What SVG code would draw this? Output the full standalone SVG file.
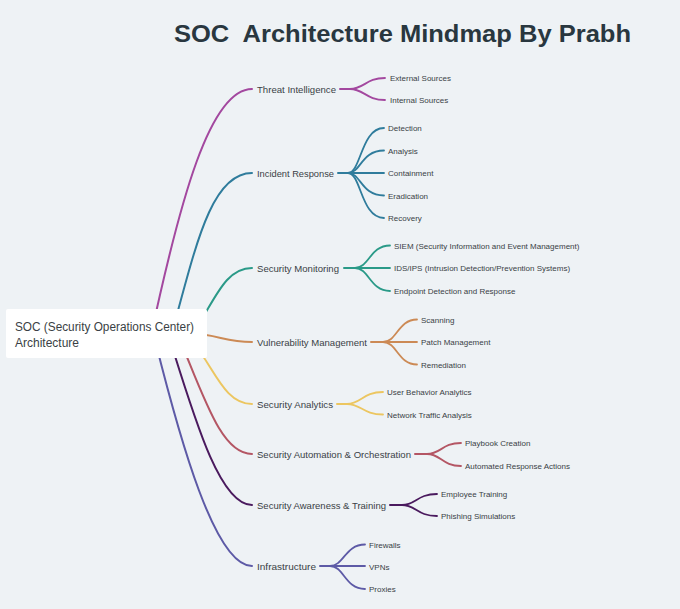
<svg xmlns="http://www.w3.org/2000/svg" width="680" height="609" viewBox="0 0 680 609">
<style>
.title{font-family:"Liberation Sans",Arial,sans-serif;font-weight:bold;font-size:24px;fill:#29373f;white-space:pre}
.root{font-family:"Liberation Sans",Arial,sans-serif;font-size:12px;fill:#3a3f45}
.br{font-family:"Liberation Sans",Arial,sans-serif;font-size:9.8px;fill:#3a3f45}
.ch{font-family:"Liberation Sans",Arial,sans-serif;font-size:8px;fill:#3a3f45}
.ln{fill:none;stroke-width:2;stroke-linecap:round}
.fk{fill:none;stroke-width:1.8;stroke-linecap:round}
.c1{stroke:#a3489f}.c2{stroke:#2f7c9c}.c3{stroke:#2a9a88}.c4{stroke:#cc8a55}
.c5{stroke:#ecc660}.c6{stroke:#b45664}.c7{stroke:#4a1a5e}.c8{stroke:#5d5aa6}
</style>
<rect width="680" height="609" fill="#eef2f5"/>
<text class="title" x="174" y="42" textLength="457" lengthAdjust="spacingAndGlyphs">SOC  Architecture Mindmap By Prabh</text>

<g id="connectors">
  <!-- root to branches -->
  <path class="ln c1" d="M150,340 C180,200 210,89 252,89"/>
  <path class="ln c2" d="M170,340 C195,250 210,173 252,173"/>
  <path class="ln c3" d="M195,330 C215,300 225,268 252,268"/>
  <path class="ln c4" d="M190,333 C220,335 225,342 252,342"/>
  <path class="ln c5" d="M195,345 C215,370 225,404 252,404"/>
  <path class="ln c6" d="M180,340 C205,400 222,454 252,454"/>
  <path class="ln c7" d="M170,340 C195,420 220,505 252,505"/>
  <path class="ln c8" d="M155,340 C180,440 215,566 252,566"/>
  <!-- Threat Intelligence -->
  <path class="ln c1" d="M340,89 L350,89"/>
  <path class="fk c1" d="M350,89 C364,89 366,78 385,78"/>
  <path class="fk c1" d="M350,89 C364,89 366,100 385,100"/>
  <!-- Incident Response -->
  <path class="ln c2" d="M338,173 L348,173"/>
  <path class="fk c2" d="M348,173 C361,173 361,128 384,128"/>
  <path class="fk c2" d="M348,173 C361,173 361,150.5 384,150.5"/>
  <path class="fk c2" d="M348,173 L384,173"/>
  <path class="fk c2" d="M348,173 C361,173 361,195.5 384,195.5"/>
  <path class="fk c2" d="M348,173 C361,173 361,218 384,218"/>
  <!-- Security Monitoring -->
  <path class="ln c3" d="M344,268 L355,268"/>
  <path class="fk c3" d="M355,268 C369,268 370,245.5 390,245.5"/>
  <path class="fk c3" d="M355,268 L390,268"/>
  <path class="fk c3" d="M355,268 C369,268 370,291 390,291"/>
  <!-- Vulnerability Management -->
  <path class="ln c4" d="M371,342 L383,342"/>
  <path class="fk c4" d="M383,342 C397,342 398,319.5 417,319.5"/>
  <path class="fk c4" d="M383,342 L417,342"/>
  <path class="fk c4" d="M383,342 C397,342 398,364.5 417,364.5"/>
  <!-- Security Analytics -->
  <path class="ln c5" d="M337,404 L347,404"/>
  <path class="fk c5" d="M347,404 C361,404 363,392 383,392"/>
  <path class="fk c5" d="M347,404 C361,404 363,414.5 383,414.5"/>
  <!-- Security Automation & Orchestration -->
  <path class="ln c6" d="M415,454 L427,454"/>
  <path class="fk c6" d="M427,454 C441,454 442,443 461,443"/>
  <path class="fk c6" d="M427,454 C441,454 442,466 461,466"/>
  <!-- Security Awareness & Training -->
  <path class="ln c7" d="M390,505 L402,505"/>
  <path class="fk c7" d="M402,505 C416,505 417,494 437,494"/>
  <path class="fk c7" d="M402,505 C416,505 417,516 437,516"/>
  <!-- Infrastructure -->
  <path class="ln c8" d="M320,566 L330,566"/>
  <path class="fk c8" d="M330,566 C344,566 345,544.5 365,544.5"/>
  <path class="fk c8" d="M330,566 L365,566"/>
  <path class="fk c8" d="M330,566 C344,566 345,589 365,589"/>
</g>

<g id="root">
  <rect x="6" y="309" width="201" height="49" rx="2" fill="#ffffff"/>
  <text class="root" x="15" y="331" textLength="179" lengthAdjust="spacingAndGlyphs">SOC (Security Operations Center)</text>
  <text class="root" x="15" y="347">Architecture</text>
</g>

<g id="threat-intelligence">
  <text class="br" x="257" y="92.5" textLength="79" lengthAdjust="spacingAndGlyphs">Threat Intelligence</text>
</g>
<g id="external-sources"><text class="ch" x="390" y="81">External Sources</text></g>
<g id="internal-sources"><text class="ch" x="390" y="103">Internal Sources</text></g>

<g id="incident-response">
  <text class="br" x="257" y="176.5" textLength="77" lengthAdjust="spacingAndGlyphs">Incident Response</text>
</g>
<g id="detection"><text class="ch" x="388" y="131">Detection</text></g>
<g id="analysis"><text class="ch" x="388" y="153.5">Analysis</text></g>
<g id="containment"><text class="ch" x="388" y="176">Containment</text></g>
<g id="eradication"><text class="ch" x="388" y="198.5">Eradication</text></g>
<g id="recovery"><text class="ch" x="388" y="221">Recovery</text></g>

<g id="security-monitoring">
  <text class="br" x="257" y="271.5" textLength="82" lengthAdjust="spacingAndGlyphs">Security Monitoring</text>
</g>
<g id="siem"><text class="ch" x="394" y="248.5">SIEM (Security Information and Event Management)</text></g>
<g id="ids-ips"><text class="ch" x="394" y="271">IDS/IPS (Intrusion Detection/Prevention Systems)</text></g>
<g id="edr"><text class="ch" x="394" y="294">Endpoint Detection and Response</text></g>

<g id="vulnerability-management">
  <text class="br" x="257" y="345.5" textLength="110" lengthAdjust="spacingAndGlyphs">Vulnerability Management</text>
</g>
<g id="scanning"><text class="ch" x="421" y="322.5">Scanning</text></g>
<g id="patch-management"><text class="ch" x="421" y="345">Patch Management</text></g>
<g id="remediation"><text class="ch" x="421" y="367.5">Remediation</text></g>

<g id="security-analytics">
  <text class="br" x="257" y="407.5" textLength="76" lengthAdjust="spacingAndGlyphs">Security Analytics</text>
</g>
<g id="uba"><text class="ch" x="387" y="395">User Behavior Analytics</text></g>
<g id="nta"><text class="ch" x="387" y="417.5">Network Traffic Analysis</text></g>

<g id="security-automation">
  <text class="br" x="257" y="457.5" textLength="154" lengthAdjust="spacingAndGlyphs">Security Automation &amp; Orchestration</text>
</g>
<g id="playbook-creation"><text class="ch" x="465" y="446">Playbook Creation</text></g>
<g id="automated-response"><text class="ch" x="465" y="469">Automated Response Actions</text></g>

<g id="security-awareness">
  <text class="br" x="257" y="508.5" textLength="129" lengthAdjust="spacingAndGlyphs">Security Awareness &amp; Training</text>
</g>
<g id="employee-training"><text class="ch" x="441" y="497">Employee Training</text></g>
<g id="phishing-simulations"><text class="ch" x="441" y="519">Phishing Simulations</text></g>

<g id="infrastructure">
  <text class="br" x="257" y="569.5" textLength="59" lengthAdjust="spacingAndGlyphs">Infrastructure</text>
</g>
<g id="firewalls"><text class="ch" x="369" y="547.5">Firewalls</text></g>
<g id="vpns"><text class="ch" x="369" y="570">VPNs</text></g>
<g id="proxies"><text class="ch" x="369" y="592">Proxies</text></g>
</svg>
